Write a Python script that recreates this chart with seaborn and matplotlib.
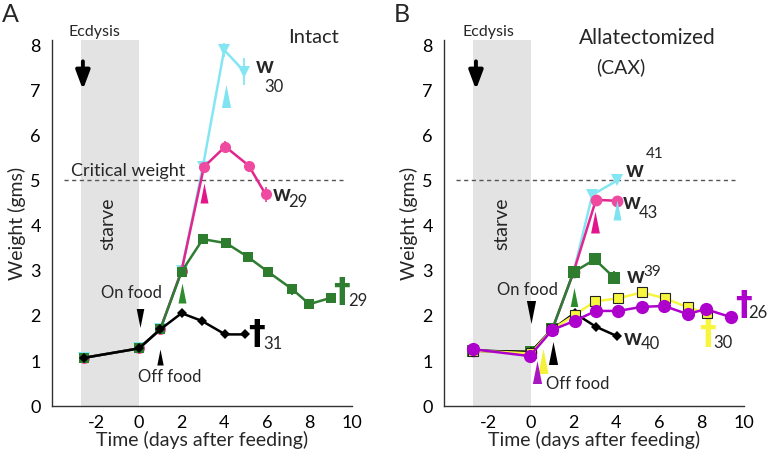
import numpy as np
import pandas as pd
import matplotlib
matplotlib.use("Agg")
import matplotlib.pyplot as plt
import seaborn as sns
from matplotlib.path import Path

sns.set_style("white")
plt.rcParams['font.family'] = ['Lato', 'DejaVu Sans']
plt.rcParams['axes.unicode_minus'] = False

# ---------------- data: panel A (Intact) ----------------
a_black_x = [-2.6, 0, 1, 2, 2.95, 4.05, 5.0]
a_black_y = [1.07, 1.28, 1.70, 2.06, 1.89, 1.59, 1.59]
a_green_x = [-2.6, 0, 1, 2, 3.0, 4.1, 5.1, 6.05, 7.2, 8.0, 9.0]
a_green_y = [1.07, 1.28, 1.70, 2.98, 3.70, 3.61, 3.31, 2.98, 2.59, 2.26, 2.40]
a_green_err = [0, 0, 0, 0, 0.1, 0.1, 0.1, 0.1, 0.12, 0.1, 0.08]
a_pink_x = [-2.6, 0, 1, 2, 3.05, 4.05, 5.15, 5.95]
a_pink_y = [1.07, 1.28, 1.70, 3.0, 5.30, 5.75, 5.33, 4.69]
a_pink_err = [0, 0, 0, 0, 0.08, 0.12, 0.08, 0.17]
a_cyan_x = [-2.6, 0, 1, 2, 3.0, 4.0, 4.95]
a_cyan_y = [1.07, 1.28, 1.70, 3.0, 5.3, 7.89, 7.41]
a_cyan_err = [0, 0, 0, 0, 0, 0.15, 0.3]

# ---------------- data: panel B (Allatectomized) ----------------
b_purple_x = [-2.7, -0.05, 1, 2.05, 3.05, 4.1, 5.2, 6.25, 7.35, 8.2, 9.4]
b_purple_y = [1.26, 1.11, 1.69, 1.89, 2.11, 2.11, 2.20, 2.22, 2.04, 2.15, 1.97]
b_yellow_x = [-2.7, 0, 1, 2.05, 3.0, 4.1, 5.2, 6.3, 7.35, 8.25]
b_yellow_y = [1.23, 1.17, 1.70, 2.02, 2.32, 2.39, 2.52, 2.39, 2.19, 2.06]
b_black_x = [-2.7, 0, 1, 2.05, 3.05, 4.05]
b_black_y = [1.23, 1.20, 1.70, 2.06, 1.76, 1.55]
b_green_x = [-2.7, 0, 1, 2, 3.0, 3.9]
b_green_y = [1.23, 1.20, 1.70, 2.97, 3.25, 2.85]
b_green_err = [0, 0, 0, 0, 0, 0.15]
b_pink_x = [-2.7, 0, 1, 2, 3.05, 4.05]
b_pink_y = [1.23, 1.20, 1.70, 2.97, 4.57, 4.55]
b_cyan_x = [-2.7, 0, 1, 2, 2.88, 4.05]
b_cyan_y = [1.23, 1.20, 1.70, 2.97, 4.68, 5.0]

critical_weight = 5.0
yticks = [0, 1, 2, 3, 4, 5, 6, 7, 8]
xticks = [-2, 0, 2, 4, 6, 8, 10]

# wedge (event) markers: x, y, height(px), colour, direction
a_wedges = [(3.05, 4.72, 20, '#E2168A', 'up'), (4.07, 6.86, 23, '#7FE3F0', 'up'),
            (2.0, 2.51, 20, '#2E8B2E', 'up'), (0.99, 1.08, 16, 'black', 'up'),
            (0.05, 1.96, 19, 'black', 'down')]
b_wedges = [(3.01, 4.07, 22, '#E2168A', 'up'), (4.05, 4.35, 20, '#7FE3F0', 'up'),
            (2.04, 2.41, 19, '#2E8B2E', 'up'), (0.01, 2.09, 23, 'black', 'down'),
            (1.03, 1.17, 23, 'black', 'up'), (0.56, 1.0, 25, '#F5F03A', 'up'),
            (0.28, 0.76, 23, '#A818C0', 'up')]

CYAN = '#84E6F2'
PINK_L = '#E3258F'
PINK_M = '#EE4BA0'
GREEN = '#2E7D32'
PURPLE = '#AE00CC'
YELLOW = '#F7F53E'

W, H = 768, 459
fig = plt.figure(figsize=(W / 100, H / 100), dpi=100)
ax_bottom = (H - 406.2) / H
ax_h = 8.1 * 45.15 / H
axA = fig.add_axes([52 / W, ax_bottom, 300 / W, ax_h])
axB = fig.add_axes([444 / W, ax_bottom, 300 / W, ax_h])

up_path = Path([(-0.2, -0.5), (0.2, -0.5), (0, 0.5), (-0.2, -0.5)])
down_path = Path([(-0.2, 0.5), (0.2, 0.5), (0, -0.5), (-0.2, 0.5)])
DAGGER = dict(family=['DejaVu Sans'], fontweight='bold', fontsize=24)


def series(ax, x, y, color, mcolor, marker, ms, lw=1.8, mec=None, err=None, z=3):
    df = pd.DataFrame({'t': x, 'w': y})
    sns.lineplot(data=df, x='t', y='w', ax=ax, color=color, lw=lw, marker=marker,
                 markersize=ms, markerfacecolor=mcolor,
                 markeredgecolor=mec if mec else mcolor, markeredgewidth=0.8 if mec else 0,
                 zorder=z, estimator=None, sort=False)
    if err is not None:
        ax.errorbar(x, y, yerr=err, fmt='none', ecolor=mcolor, elinewidth=1.3, capsize=0, zorder=z)


def setup(ax, starve_x):
    ax.set_xlim(-4.08, 10)
    ax.set_ylim(0, 8.1)
    ax.axvspan(-2.7, 0, ymin=0, ymax=1, color='#E3E3E3', lw=0, zorder=0)
    ax.plot([-3.5, 9.6], [critical_weight] * 2, ls=(0, (3, 2.5)), color='#555555', lw=1.0, zorder=1)
    for s in ['top', 'right']:
        ax.spines[s].set_visible(False)
    for s in ['left', 'bottom']:
        ax.spines[s].set_color('#333333')
        ax.spines[s].set_linewidth(1.0)
    ax.set_xticks(xticks)
    ax.set_yticks(yticks)
    ax.tick_params(direction='in', length=4, width=1, labelsize=13,
                   colors='#333333', labelcolor='black')
    ax.tick_params(axis='y', pad=8)
    ax.tick_params(axis='x', pad=6)
    ax.set_xlabel('Time (days after feeding)', fontsize=14, labelpad=0)
    ax.set_ylabel('Weight (gms)', fontsize=14, labelpad=3)
    ax.text(starve_x, 4.05, 'starve', rotation=90, ha='center', va='center', fontsize=14)


def wedges(ax, lst):
    for x, y, h, c, d in lst:
        ax.plot([x], [y], marker=up_path if d == 'up' else down_path, ms=h * 0.72,
                color=c, mec=c, mew=0, ls='none', zorder=6)


def arrow(ax, x):
    ax.annotate('', xy=(x, 6.95), xytext=(x, 7.7),
                arrowprops=dict(arrowstyle='-|>,head_width=0.3,head_length=0.8',
                                lw=2.8, color='black', mutation_scale=14), zorder=6)


# ---------------- panel A ----------------
setup(axA, -1.45)
series(axA, a_cyan_x, a_cyan_y, CYAN, CYAN, 'v', 9, err=a_cyan_err, z=3)
series(axA, a_pink_x, a_pink_y, PINK_L, PINK_M, 'o', 8, err=a_pink_err, z=4)
series(axA, a_green_x, a_green_y, GREEN, '#2E7D2E', 's', 7, err=a_green_err, z=5)
series(axA, a_black_x, a_black_y, 'black', 'black', 'D', 5.5, z=5.5)
wedges(axA, a_wedges)
arrow(axA, -2.63)
axA.text(-2.07, 8.29, 'Ecdysis', ha='center', va='center', fontsize=11.5, clip_on=False)
axA.text(8.2, 8.17, 'Intact', ha='center', va='center', fontsize=14.5, clip_on=False)
axA.text(-0.5, 5.2, 'Critical weight', ha='center', va='center', fontsize=13)
axA.text(5.92, 7.53, 'w', fontweight='bold', fontsize=16, ha='center', va='center')
axA.text(6.33, 7.06, '30', fontsize=12, ha='center', va='center')
axA.text(6.68, 4.68, 'w', fontweight='bold', fontsize=16, ha='center', va='center')
axA.text(7.45, 4.52, '29', fontsize=12, ha='center', va='center')
axA.text(9.52, 2.52, '\u2020', color=GREEN, ha='center', va='center', clip_on=False, **DAGGER)
axA.text(10.28, 2.32, '29', fontsize=12, ha='center', va='center', clip_on=False)
axA.text(5.52, 1.58, '\u2020', color='black', ha='center', va='center', **DAGGER)
axA.text(6.3, 1.37, '31', fontsize=12, ha='center', va='center')
axA.text(-0.34, 2.5, 'On food', fontsize=12, ha='center', va='center')
axA.text(1.45, 0.65, 'Off food', fontsize=12, ha='center', va='center')

# ---------------- panel B ----------------
setup(axB, -1.35)
series(axB, b_cyan_x, b_cyan_y, CYAN, CYAN, 'v', 9, z=3)
series(axB, b_pink_x, b_pink_y, PINK_L, PINK_M, 'o', 8.5, z=4)
series(axB, b_green_x, b_green_y, GREEN, '#2E7D2E', 's', 8, err=b_green_err, z=5)
series(axB, b_black_x, b_black_y, 'black', 'black', 'D', 5.5, z=5.2)
series(axB, b_yellow_x, b_yellow_y, YELLOW, YELLOW, 's', 7.5, mec='#222222', z=5.4)
series(axB, b_purple_x, b_purple_y, PURPLE, PURPLE, 'o', 9.5, z=5.6)
wedges(axB, b_wedges)
arrow(axB, -2.58)
axB.text(-2.0, 8.29, 'Ecdysis', ha='center', va='center', fontsize=11.5, clip_on=False)
axB.text(5.46, 8.15, 'Allatectomized', ha='center', va='center', fontsize=15, clip_on=False)
axB.text(4.22, 7.51, '(CAX)', ha='center', va='center', fontsize=14)
axB.text(4.85, 5.23, 'w', fontweight='bold', fontsize=16, ha='center', va='center')
axB.text(5.8, 5.58, '41', fontsize=11, ha='center', va='center')
axB.text(4.75, 4.52, 'w', fontweight='bold', fontsize=16, ha='center', va='center')
axB.text(5.5, 4.28, '43', fontsize=12, ha='center', va='center')
axB.text(4.92, 2.87, 'w', fontweight='bold', fontsize=16, ha='center', va='center')
axB.text(5.68, 2.97, '39', fontsize=11, ha='center', va='center')
axB.text(4.76, 1.5, 'w', fontweight='bold', fontsize=16, ha='center', va='center')
axB.text(5.6, 1.37, '40', fontsize=12, ha='center', va='center')
axB.text(9.96, 2.24, '\u2020', color=PURPLE, ha='center', va='center', clip_on=False, **DAGGER)
axB.text(10.66, 2.07, '26', fontsize=12, ha='center', va='center', clip_on=False)
axB.text(8.27, 1.58, '\u2020', color=YELLOW, ha='center', va='center', **DAGGER)
axB.text(9.02, 1.4, '30', fontsize=12, ha='center', va='center')
axB.text(-0.16, 2.57, 'On food', fontsize=12, ha='center', va='center')
axB.text(2.18, 0.49, 'Off food', fontsize=12, ha='center', va='center')

fig.text(10 / W, 1 - 15 / H, 'A', fontsize=18, ha='center', va='center')
fig.text(402 / W, 1 - 15 / H, 'B', fontsize=18, ha='center', va='center')

fig.savefig('out.png', dpi=100)
